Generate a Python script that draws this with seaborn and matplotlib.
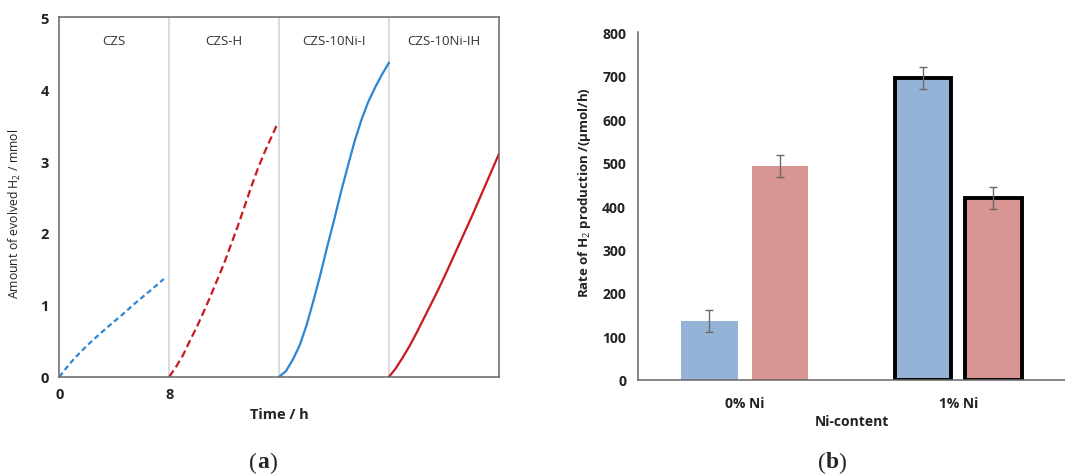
import numpy as np
import pandas as pd
import matplotlib.pyplot as plt
import seaborn as sns

# ---- panel (a): evolved H2 vs time ----
czs_t = [0, 0.5, 1, 1.5, 2, 2.5, 3, 3.5, 4, 4.5, 5, 5.5, 6, 6.5, 7, 7.6]
czs_y = [0, 0.12, 0.235, 0.335, 0.43, 0.52, 0.605, 0.69, 0.77, 0.85, 0.935, 1.02, 1.1, 1.18, 1.26, 1.36]
czsh_t = [8, 8.5, 9, 9.5, 10, 10.5, 11, 11.5, 12, 12.5, 13, 13.5, 14, 14.5, 15, 15.5, 15.9]
czsh_y = [0, 0.14, 0.3, 0.5, 0.69, 0.9, 1.12, 1.35, 1.58, 1.84, 2.1, 2.38, 2.66, 2.92, 3.15, 3.36, 3.53]
czsni_t = [16, 16.5, 17, 17.5, 18, 18.5, 19, 19.5, 20, 20.5, 21, 21.5, 22, 22.5, 23, 23.5, 24]
czsni_y = [0, 0.08, 0.24, 0.44, 0.72, 1.06, 1.42, 1.81, 2.18, 2.57, 2.93, 3.28, 3.58, 3.83, 4.03, 4.21, 4.37]
czsnih_t = [24, 24.5, 25, 25.5, 26, 26.5, 27, 27.5, 28, 28.5, 29, 29.5, 30, 30.5, 31, 31.5, 32]
czsnih_y = [0, 0.12, 0.27, 0.43, 0.61, 0.8, 0.99, 1.18, 1.38, 1.59, 1.8, 2.01, 2.22, 2.44, 2.66, 2.88, 3.1]
sample_names = ["CZS", "CZS-H", "CZS-10Ni-I", "CZS-10Ni-IH"]

# ---- panel (b): rate of H2 production ----
ni_content = ["0% Ni", "1% Ni"]
rate_plain = [135, 695]
rate_h = [492, 418]
err_plain = [25, 25]
err_h = [25, 25]

sns.set_style("white")
plt.rcParams['font.family'] = ['Open Sans', 'DejaVu Sans']
plt.rcParams['mathtext.fontset'] = 'custom'
plt.rcParams['mathtext.rm'] = 'Open Sans'
plt.rcParams['mathtext.it'] = 'Open Sans:italic'
plt.rcParams['mathtext.bf'] = 'Open Sans:bold'

fig = plt.figure(figsize=(10.65, 4.77), dpi=100)
ax1 = fig.add_axes([0.0557, 0.208, 0.4128, 0.7536])
ax2 = fig.add_axes([0.599, 0.202, 0.401, 0.728])

blue = "#2D86D4"
red = "#C8191E"
segs = [(czs_t, czs_y, blue, (0, (2.4, 1.5))),
        (czsh_t, czsh_y, red, (0, (3.4, 1.8))),
        (czsni_t, czsni_y, blue, '-'),
        (czsnih_t, czsnih_y, red, '-')]
for t, y, c, ls in segs:
    sns.lineplot(x=t, y=y, ax=ax1, color=c, linestyle=ls, linewidth=1.6,
                 estimator=None, sort=False)

for xv in [8, 16, 24]:
    ax1.axvline(xv, color="#d4d4d4", lw=1.2, zorder=0)
for i, name in enumerate(sample_names):
    ax1.text(4 + 8 * i, 4.68, name, ha='center', va='center', fontsize=9.5, color="#333333")

ax1.set_xlim(0, 32)
ax1.set_ylim(0, 5)
ax1.set_xticks([0, 8, 16, 24, 32])
ax1.set_xticklabels(["0", "8", "", "", ""])
ax1.set_yticks(range(6))
for s in ax1.spines.values():
    s.set_color("#666666")
    s.set_linewidth(1.1)
ax1.tick_params(axis='both', direction='out', length=4, width=1, color="#666666",
                labelsize=10.5, labelcolor="#222222")
for lab in ax1.get_xticklabels() + ax1.get_yticklabels():
    lab.set_fontweight('bold')
ax1.set_xlabel("Time / h", fontsize=10.5, fontweight='bold', color="#222222", labelpad=4)
ax1.set_ylabel("Amount of evolved H$_2$ / mmol", fontsize=8.8, color="#222222")
ax1.yaxis.set_label_coords(-0.082, 0.455)

# bars
df = pd.DataFrame({
    "Ni-content": ni_content * 2,
    "rate": rate_plain + rate_h,
    "sample": ["CZS"] * 2 + ["CZS-H"] * 2,
})
sns.barplot(data=df, x="Ni-content", y="rate", hue="sample", ax=ax2,
            palette=["#95B3D7", "#D99594"], width=0.66, gap=0.2,
            saturation=1, legend=False, errorbar=None)

errs = err_plain + err_h
vals = rate_plain + rate_h
bars = ax2.patches[:4]
for k, b in enumerate(bars):
    b.set_edgecolor('none')
    xc = b.get_x() + b.get_width() / 2
    if xc > 0.5:
        b.set_edgecolor('black')
        b.set_linewidth(2.8)
    ax2.errorbar(xc, vals[k], yerr=errs[k], color="#6a6a6a", lw=1, capsize=3, capthick=1)

ax2.set_xlim(-0.5, 1.452)
ax2.set_ylim(0, 800)
ax2.set_yticks(range(0, 801, 100))
ax2.set_xticks([-0.5, 0.5, 1.5], minor=True)
ax2.tick_params(axis='x', which='major', length=0, labelsize=10, pad=12, labelcolor="#222222")
ax2.tick_params(axis='x', which='minor', length=5, width=1, color="#555555", direction='out')
ax2.tick_params(axis='y', length=5, width=1, color="#555555", direction='out',
                labelsize=10, labelcolor="#222222")
for lab in ax2.get_xticklabels() + ax2.get_yticklabels():
    lab.set_fontweight('bold')
for side in ['top', 'right']:
    ax2.spines[side].set_visible(False)
for side in ['left', 'bottom']:
    ax2.spines[side].set_color("#666666")
    ax2.spines[side].set_linewidth(1.1)
ax2.set_xlabel("Ni-content", fontsize=10, fontweight='bold', color="#222222", labelpad=3)
ax2.set_ylabel("Rate of H$_2$ production /(\u03bcmol/h)", fontsize=9.5, fontweight='bold',
               color="#222222")
ax2.yaxis.set_label_coords(-0.105, 0.54)

# panel captions
for xc, letter in [(263, "a"), (832, "b")]:
    xf = xc / 1065
    fig.text(xf - 0.006, 1 - 463 / 477, "(", ha='right', va='center', fontsize=17, family='Liberation Serif')
    fig.text(xf, 1 - 463 / 477, letter, ha='center', va='center', fontsize=17,
             family='Liberation Serif', fontweight='bold')
    fig.text(xf + 0.006, 1 - 463 / 477, ")", ha='left', va='center', fontsize=17, family='Liberation Serif')

fig.savefig("out.png", dpi=100)
